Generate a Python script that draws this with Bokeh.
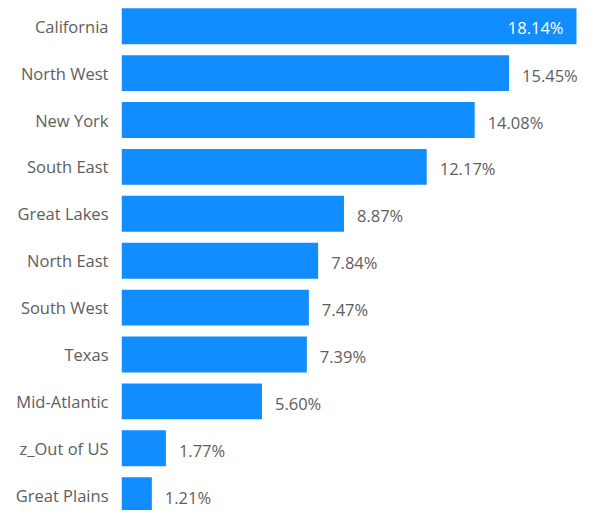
from bokeh.plotting import figure
from bokeh.models import ColumnDataSource, Range1d, FixedTicker
from bokeh.core.properties import value
from bokeh.embed import file_html
from bokeh.resources import INLINE

regions = ["California", "North West", "New York", "South East", "Great Lakes",
           "North East", "South West", "Texas", "Mid-Atlantic", "z_Out of US", "Great Plains"]
shares = [18.14, 15.45, 14.08, 12.17, 8.87, 7.84, 7.47, 7.39, 5.60, 1.77, 1.21]

n = len(regions)
ypos = [n - 1 - i for i in range(n)]
vmax = max(shares)
labels = ["%.2f%%" % v for v in shares]
inside = [v == vmax for v in shares]

bar_src = ColumnDataSource(dict(y=ypos, v=shares))
in_src = ColumnDataSource(dict(
    y=[y for y, f in zip(ypos, inside) if f],
    v=[v for v, f in zip(shares, inside) if f],
    t=[t for t, f in zip(labels, inside) if f]))
out_src = ColumnDataSource(dict(
    y=[y for y, f in zip(ypos, inside) if not f],
    v=[v for v, f in zip(shares, inside) if not f],
    t=[t for t, f in zip(labels, inside) if not f]))

p = figure(width=580, height=510, output_backend="svg", toolbar_location=None,
           x_range=Range1d(0, 18.3), y_range=Range1d(-0.326, 10.548),
           min_border_left=121, min_border_right=0, min_border_top=0, min_border_bottom=0)

p.hbar(y="y", right="v", left=0, height=0.765, source=bar_src,
       fill_color="#118DFF", line_color=None)

p.text(x="v", y="y", text="t", source=in_src, x_offset=-13, y_offset=1,
       text_align="right", text_baseline="middle", text_color="white",
       text_font=value("Open Sans"), text_font_size="16.5px")
p.text(x="v", y="y", text="t", source=out_src, x_offset=13, y_offset=2,
       text_align="left", text_baseline="middle", text_color="#605E5C",
       text_font=value("Open Sans"), text_font_size="16.5px")

p.xaxis.visible = False
p.xgrid.visible = False
p.ygrid.visible = False
p.outline_line_color = None

ax = p.yaxis[0]
ax.ticker = FixedTicker(ticks=ypos)
ax.major_label_overrides = {y: r for y, r in zip(ypos, regions)}
ax.axis_line_color = None
ax.major_tick_line_color = None
ax.minor_tick_line_color = None
ax.major_tick_out = 0
ax.major_tick_in = 0
ax.major_label_standoff = 13
ax.major_label_text_font = "Open Sans"
ax.major_label_text_font_size = "16.5px"
ax.major_label_text_color = "#605E5C"

open("out.html", "w").write(file_html(p, INLINE))
